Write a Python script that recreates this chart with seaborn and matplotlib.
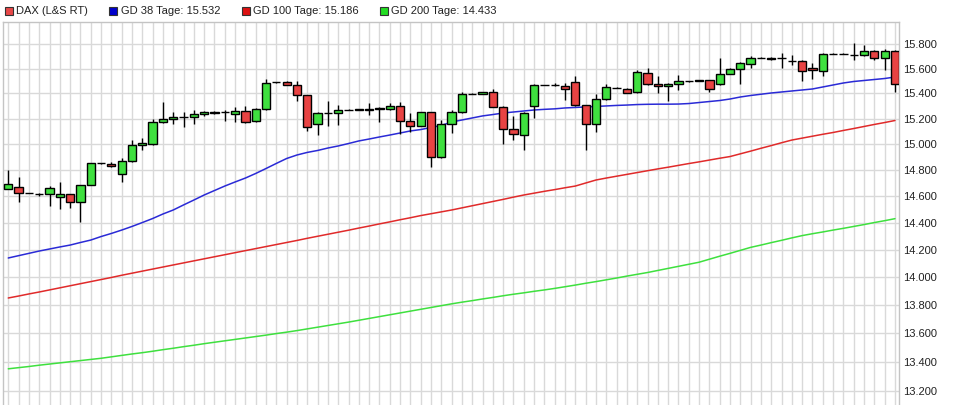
import matplotlib
matplotlib.use("Agg")
import matplotlib.pyplot as plt
import numpy as np
import pandas as pd
import seaborn as sns
from matplotlib.patches import Rectangle
from matplotlib.ticker import FixedLocator, FuncFormatter, NullLocator

# daily candles (DAX, L&S RT)
opens = [14660, 14670, 14625, 14622, 14615, 14598, 14617, 14556, 14687, 14853,
         14847, 14770, 14868, 14992, 15003, 15172, 15197, 15211, 15211, 15238,
         15244, 15250, 15237, 15258, 15180, 15277, 15489, 15489, 15466, 15386,
         15159, 15243, 15243, 15269, 15270, 15269, 15287, 15274, 15298, 15180,
         15143, 15250, 14899, 15156, 15250, 15396, 15396, 15409, 15295, 15117,
         15070, 15300, 15468, 15468, 15462, 15489, 15306, 15156, 15354, 15445,
         15438, 15409, 15562, 15476, 15460, 15476, 15498, 15503, 15505, 15474,
         15559, 15597, 15637, 15688, 15688, 15688, 15664, 15661, 15604, 15578,
         15721, 15721, 15712, 15712, 15743, 15683, 15743]
highs = [14800, 14750, 14627, 14628, 14680, 14707, 14620, 14690, 14855, 14855,
         14860, 14890, 15030, 15050, 15200, 15330, 15255, 15255, 15265, 15260,
         15258, 15268, 15290, 15300, 15285, 15516, 15492, 15502, 15500, 15390,
         15250, 15340, 15308, 15275, 15276, 15322, 15290, 15322, 15330, 15243,
         15255, 15255, 15190, 15272, 15414, 15400, 15412, 15436, 15300, 15221,
         15250, 15475, 15471, 15480, 15480, 15543, 15310, 15396, 15475, 15448,
         15445, 15588, 15607, 15540, 15480, 15548, 15501, 15508, 15510, 15683,
         15605, 15650, 15704, 15691, 15692, 15724, 15709, 15670, 15643, 15725,
         15724, 15724, 15806, 15792, 15750, 15757, 15750]
lows = [14655, 14560, 14623, 14605, 14530, 14505, 14515, 14410, 14685, 14851,
        14825, 14712, 14860, 14953, 14995, 15165, 15156, 15135, 15156, 15225,
        15240, 15184, 15176, 15164, 15175, 15270, 15486, 15465, 15343, 15106,
        15072, 15145, 15150, 15265, 15266, 15229, 15176, 15270, 15080, 15098,
        15140, 14822, 14895, 15085, 15245, 15393, 15393, 15290, 15000, 15033,
        14959, 15208, 15465, 15460, 15347, 15300, 14959, 15098, 15350, 15442,
        15400, 15405, 15470, 15402, 15343, 15428, 15495, 15500, 15409, 15466,
        15555, 15474, 15601, 15685, 15672, 15607, 15629, 15501, 15516, 15540,
        15718, 15718, 15671, 15705, 15670, 15588, 15414]
closes = [14695, 14625, 14625, 14615, 14662, 14617, 14556, 14687, 14853, 14853,
          14829, 14868, 14992, 15012, 15172, 15200, 15211, 15212, 15240, 15252,
          15252, 15251, 15258, 15174, 15277, 15486, 15489, 15468, 15386, 15133,
          15243, 15244, 15269, 15269, 15273, 15275, 15274, 15298, 15180, 15143,
          15250, 14899, 15156, 15250, 15396, 15396, 15409, 15295, 15117, 15078,
          15243, 15468, 15468, 15468, 15433, 15306, 15156, 15354, 15450, 15445,
          15402, 15570, 15476, 15460, 15476, 15498, 15498, 15505, 15433, 15559,
          15597, 15643, 15688, 15688, 15675, 15689, 15665, 15578, 15588, 15721,
          15721, 15721, 15713, 15743, 15683, 15743, 15474]

# moving averages
gd38 = [14142, 14159, 14176, 14193, 14208, 14223, 14237, 14256, 14274, 14300,
        14323, 14348, 14375, 14404, 14434, 14468, 14498, 14536, 14573, 14611,
        14645, 14679, 14710, 14740, 14775, 14813, 14852, 14890, 14917, 14937,
        14952, 14971, 14987, 15006, 15026, 15041, 15057, 15072, 15088, 15104,
        15115, 15131, 15147, 15174, 15190, 15206, 15222, 15233, 15245, 15253,
        15261, 15269, 15274, 15278, 15285, 15289, 15293, 15297, 15301, 15305,
        15308, 15312, 15314, 15315, 15315, 15316, 15320, 15328, 15336, 15344,
        15356, 15372, 15384, 15394, 15404, 15412, 15420, 15428, 15436, 15452,
        15468, 15484, 15496, 15504, 15512, 15520, 15532]
gd100 = [13852, 13866, 13881, 13895, 13910, 13925, 13940, 13955, 13970, 13985,
         14000, 14016, 14031, 14046, 14061, 14076, 14091, 14106, 14121, 14136,
         14151, 14166, 14181, 14196, 14211, 14226, 14241, 14256, 14271, 14287,
         14302, 14317, 14332, 14347, 14363, 14378, 14394, 14409, 14425, 14440,
         14456, 14470, 14484, 14498, 14514, 14530, 14546, 14562, 14578, 14595,
         14611, 14625, 14639, 14652, 14666, 14679, 14702, 14725, 14740, 14754,
         14768, 14782, 14796, 14810, 14823, 14837, 14851, 14864, 14878, 14892,
         14905, 14926, 14947, 14969, 14990, 15012, 15033, 15048, 15063, 15078,
         15092, 15108, 15123, 15139, 15155, 15170, 15186]
gd200 = [13353, 13361, 13369, 13378, 13386, 13394, 13402, 13410, 13418, 13426,
         13436, 13446, 13456, 13465, 13475, 13486, 13496, 13507, 13517, 13528,
         13538, 13548, 13558, 13568, 13578, 13588, 13599, 13609, 13620, 13632,
         13644, 13656, 13668, 13680, 13693, 13706, 13719, 13732, 13745, 13758,
         13771, 13784, 13797, 13810, 13822, 13833, 13845, 13856, 13868, 13879,
         13889, 13900, 13910, 13921, 13933, 13945, 13958, 13970, 13983, 13996,
         14010, 14023, 14036, 14051, 14066, 14081, 14096, 14111, 14133, 14155,
         14176, 14198, 14220, 14237, 14255, 14272, 14290, 14307, 14321, 14334,
         14348, 14361, 14375, 14389, 14404, 14418, 14433]

y_ticks = [13200, 13400, 13600, 13800, 14000, 14200, 14400, 14600, 14800,
           15000, 15200, 15400, 15600, 15800]
legend_labels = ["DAX (L&S RT)", "GD 38 Tage: 15.532",
                 "GD 100 Tage: 15.186", "GD 200 Tage: 14.433"]

UP = "#3fe03f"
DOWN = "#e84343"
MA_COLORS = {"gd38": "#2a2ad6", "gd100": "#e02a2a", "gd200": "#3ee03e"}
LEGEND_COLORS = ["#e84848", "#0000cc", "#dd1111", "#22dd22"]
GRID = "#d9d9d9"

sns.set_theme(style="whitegrid")
plt.rcParams["font.family"] = ["Liberation Sans", "DejaVu Sans"]

df = pd.DataFrame({"open": opens, "high": highs, "low": lows, "close": closes,
                   "gd38": gd38, "gd100": gd100, "gd200": gd200})
df["day"] = np.arange(len(df))

W, H = 958, 405
fig = plt.figure(figsize=(W / 100, H / 100), dpi=100)
ax = fig.add_axes([3 / W, 0, 896.3 / W, 383 / H])
ax.set_yscale("log")

# moving averages under the candles
for col in ["gd200", "gd100", "gd38"]:
    sns.lineplot(data=df, x="day", y=col, color=MA_COLORS[col], lw=1.1, ax=ax,
                 zorder=2)

# wicks + bodies
ax.vlines(df["day"], df["low"], df["high"], color="black", lw=1, zorder=3)
up = df["close"] >= df["open"]
body_lo = np.minimum(df["open"], df["close"])
body_h = (df["close"] - df["open"]).abs()
ax.bar(df["day"], body_h, bottom=body_lo, width=0.8,
       color=np.where(up, UP, DOWN), edgecolor="black", linewidth=1, zorder=4)

ax.set_xlim(-0.51, 86.42)
ax.set_ylim(13105, 15981)
ax.set_xlabel("")
ax.set_ylabel("")

ax.set_xticks(df["day"])
ax.set_xticklabels([])
ax.yaxis.set_major_locator(FixedLocator(y_ticks))
ax.yaxis.set_minor_locator(NullLocator())
ax.yaxis.set_major_formatter(FuncFormatter(lambda v, _: f"{v:,.0f}".replace(",", ".")))
ax.yaxis.tick_right()
ax.tick_params(axis="both", length=0)
ax.tick_params(axis="y", pad=2.8, labelsize=8, labelcolor="#222222")
ax.grid(True, color=GRID, lw=1)
ax.set_facecolor("white")
for side, sp in ax.spines.items():
    sp.set_color("#c4c4c4")
    sp.set_linewidth(1)
ax.spines["bottom"].set_visible(False)

# legend row above the plot
sq_x = [5, 109, 242, 380]
txt_x = [16, 121, 253, 391]
for sx, tx, col, lab in zip(sq_x, txt_x, LEGEND_COLORS, legend_labels):
    fig.patches.append(Rectangle((sx / W, 1 - 15 / H), 8 / W, 8 / H,
                                 transform=fig.transFigure, facecolor=col,
                                 edgecolor="#333333", lw=0.8))
    fig.text(tx / W, 1 - 11 / H, lab, fontsize=8, color="#222222", va="center",
             ha="left")

fig.savefig("out.png", dpi=100)
